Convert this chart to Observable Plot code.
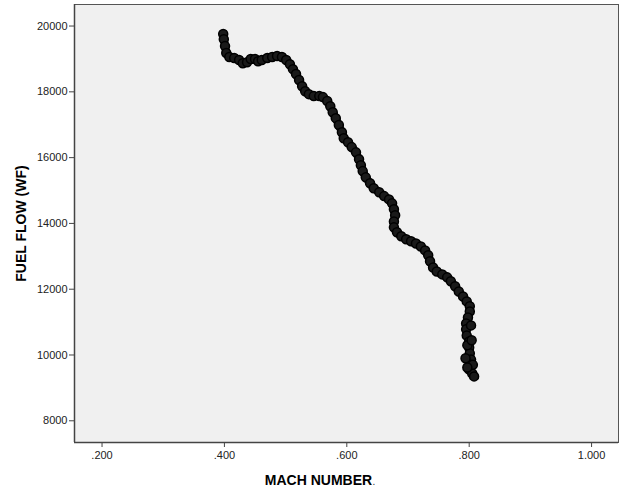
<!DOCTYPE html>
<html>
<head>
<meta charset="utf-8">
<script src="https://cdn.jsdelivr.net/npm/d3@7"></script>
<script src="https://cdn.jsdelivr.net/npm/@observablehq/plot@0.6"></script>
<style>
  html, body { margin: 0; padding: 0; background: #ffffff; }
  #chart { width: 642px; height: 492px; }
</style>
</head>
<body>
<div id="chart"></div>
<script>
// Mach number readings (in flight order)
const mach = [
  0.398, 0.399, 0.401, 0.403, 0.408, 0.416, 0.424, 0.430, 0.437, 0.443,
  0.450, 0.455, 0.461, 0.470, 0.478, 0.486, 0.494, 0.501, 0.507, 0.512,
  0.517, 0.522, 0.527, 0.532, 0.538, 0.546, 0.555, 0.561, 0.568, 0.573,
  0.577, 0.582, 0.587, 0.592, 0.595, 0.602, 0.608, 0.615, 0.620, 0.623,
  0.626, 0.631, 0.638, 0.644, 0.653, 0.661, 0.669, 0.674, 0.677, 0.679,
  0.677, 0.677, 0.682, 0.689, 0.697, 0.705, 0.713, 0.721, 0.728, 0.733,
  0.736, 0.741, 0.747, 0.756, 0.764, 0.770, 0.777, 0.783, 0.790, 0.796,
  0.801, 0.801, 0.798, 0.795, 0.795, 0.796, 0.800, 0.800, 0.801, 0.803,
  0.801, 0.800, 0.805, 0.808
];
// Fuel flow (WF) readings matching the Mach numbers above
const fuelFlow = [
  19760, 19600, 19390, 19180, 19060, 19030, 18970, 18870, 18900, 19000,
  19000, 18930, 18970, 19030, 19060, 19090, 19060, 18970, 18840, 18690,
  18540, 18360, 18170, 18020, 17930, 17870, 17870, 17840, 17720, 17560,
  17380, 17200, 16990, 16770, 16590, 16470, 16320, 16160, 15950, 15770,
  15590, 15400, 15220, 15070, 14950, 14830, 14730, 14610, 14430, 14250,
  14060, 13880, 13730, 13610, 13520, 13460, 13390, 13300, 13180, 13030,
  12850, 12660, 12540, 12450, 12360, 12240, 12090, 11930, 11780, 11630,
  11480, 11320, 11140, 10960, 10780, 10590, 10410, 10230, 10050, 9860,
  9710, 9560, 9440, 9350
];
// A few scattered readings around the low end
const extraMach = [0.797, 0.804, 0.794, 0.806, 0.797, 0.803];
const extraFuel = [10300, 10450, 9900, 9700, 9620, 10900];

const xTicks = [0.2, 0.4, 0.6, 0.8, 1.0];
const yTicks = [8000, 10000, 12000, 14000, 16000, 18000, 20000];
const xTitle = "MACH NUMBER";
const yTitle = "FUEL FLOW (WF)";

const data = mach.map((m, i) => ({mach: m, wf: fuelFlow[i]}));
const extra = extraMach.map((m, i) => ({mach: m, wf: extraFuel[i]}));
const all = data.concat(extra);

const fmtX = v => d3.format(".3f")(v).replace(/^0\./, ".");

const plot = Plot.plot({
  width: 642,
  height: 492,
  marginLeft: 74,
  marginRight: 24,
  marginTop: 4,
  marginBottom: 50,
  style: {fontFamily: "Arial, 'Liberation Sans', sans-serif", fontSize: "11px", color: "#222", background: "#ffffff"},
  x: {domain: [0.155, 1.044], ticks: xTicks, tickFormat: fmtX, label: null, tickSize: 5},
  y: {domain: [7340, 20655], ticks: yTicks, tickFormat: d3.format("d"), label: null, tickSize: 5},
  marks: [
    Plot.frame({fill: "#f0f0f0", stroke: "#555", strokeWidth: 1}),
    Plot.axisX({ticks: xTicks, tickFormat: fmtX, tickSize: 5, tickPadding: 4, stroke: "#444", fill: "#222", label: null}),
    Plot.axisY({ticks: yTicks, tickFormat: d3.format("d"), tickSize: 5, tickPadding: 2, stroke: "#444", fill: "#222", label: null}),
    Plot.ruleX([0.155], {stroke: "#444", strokeWidth: 1.5}),
    Plot.ruleY([7340], {stroke: "#444", strokeWidth: 1.5}),
    Plot.line(data, {x: "mach", y: "wf", stroke: "#0a0a0a", strokeWidth: 8, strokeLinejoin: "round", strokeLinecap: "round"}),
    Plot.dot(all, {x: "mach", y: "wf", r: 4.5, stroke: "#000", strokeWidth: 1.5, fill: "#1a1a1a"}),
    Plot.text([xTitle], {frameAnchor: "bottom", dx: -28, dy: 42, textAnchor: "middle", text: d => d, fontWeight: "bold", fontSize: 14, fill: "#000"}),
    Plot.text(["."], {frameAnchor: "bottom", dx: 26, dy: 42, textAnchor: "start", text: d => d, fontSize: 10, fill: "#333"}),
    Plot.text([yTitle], {frameAnchor: "left", dx: -53, dy: 0, rotate: -90, textAnchor: "middle", text: d => d, fontWeight: "bold", fontSize: 14, fill: "#000"})
  ]
});
document.getElementById("chart").appendChild(plot);
</script>
</body>
</html>
